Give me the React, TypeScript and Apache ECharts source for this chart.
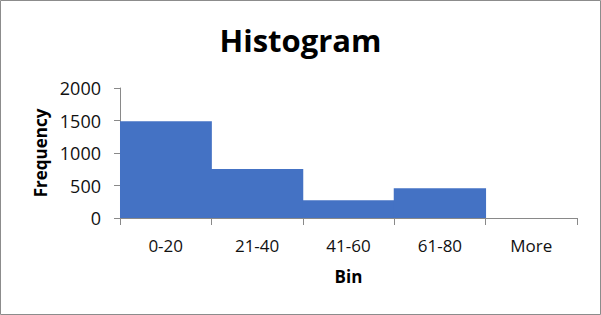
import React, { useEffect, useRef } from "react";
import * as echarts from "echarts";

const bins = ["0-20", "21-40", "41-60", "61-80", "More"];
const frequency = [1490, 752, 275, 457, 0];
const yTicks = { min: 0, max: 2000, interval: 500 };

export default function App() {
  const ref = useRef<HTMLDivElement>(null);
  useEffect(() => {
    document.body.style.margin = "0";
    const chart = echarts.init(ref.current!, undefined, { renderer: "svg" });
    const font = "'Open Sans', 'Liberation Sans', sans-serif";
    chart.setOption({
      animation: false,
      backgroundColor: "#ffffff",
      title: {
        text: "Histogram",
        left: "center",
        top: 19,
        textStyle: { fontFamily: font, fontWeight: "bold", fontSize: 31, color: "#000" },
      },
      graphic: [
        {
          type: "rect",
          shape: { x: 0.5, y: 0.5, width: 600, height: 314 },
          style: { fill: "none", stroke: "#8c8c8c", lineWidth: 1 },
          silent: true,
        },
      ],
      grid: { left: 120, right: 24, top: 88, bottom: 97 },
      xAxis: {
        type: "category",
        data: bins,
        name: "Bin",
        nameLocation: "middle",
        nameGap: 50,
        nameTextStyle: { fontFamily: font, fontWeight: "bold", fontSize: 17, color: "#000" },
        axisLine: { lineStyle: { color: "#898989", width: 1 } },
        axisTick: { show: true, length: 7, lineStyle: { color: "#898989" } },
        axisLabel: { fontFamily: font, fontSize: 17, color: "#111", margin: 19 },
        splitLine: { show: false },
      },
      yAxis: {
        type: "value",
        min: yTicks.min,
        max: yTicks.max,
        interval: yTicks.interval,
        name: "Frequency",
        nameLocation: "middle",
        nameGap: 71,
        nameTextStyle: { fontFamily: font, fontWeight: "bold", fontSize: 17, color: "#000" },
        axisLine: { show: true, lineStyle: { color: "#898989", width: 1 } },
        axisTick: { show: true, length: 6, lineStyle: { color: "#898989" } },
        axisLabel: {
          fontFamily: font,
          fontSize: 18,
          color: "#111",
          margin: 19,
          formatter: (v: number) => String(v),
        },
        splitLine: { show: false },
      },
      series: [
        {
          type: "bar",
          data: frequency,
          barWidth: "101%",
          itemStyle: { color: "#4472C4" },
        },
      ],
    });
    return () => chart.dispose();
  }, []);
  return <div ref={ref} style={{ width: 601, height: 315 }} />;
}
